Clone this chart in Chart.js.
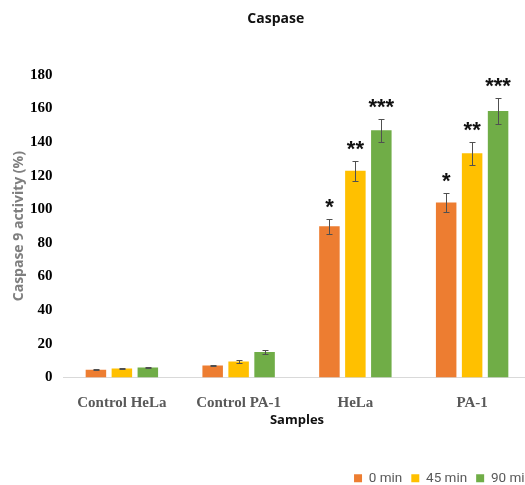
<!DOCTYPE html>
<html>
<head>
<meta charset="utf-8">
<script src="https://cdn.jsdelivr.net/npm/chart.js@4"></script>
<style>
  html, body { margin: 0; padding: 0; background: #fff; overflow: hidden; }
  #wrap { width: 541px; height: 485px; }
</style>
</head>
<body>
<div id="wrap"><canvas id="c" width="541" height="485"></canvas></div>
<script>
// Caspase 9 activity per sample and incubation time
const categories = ['Control HeLa', 'Control PA-1', 'HeLa', 'PA-1'];
const seriesNames = ['0 min', '45 min', '90 min'];
const values0  = [4.6, 7.1, 90, 104];
const values45 = [5.4, 9.5, 123, 133.3];
const values90 = [6.0, 15.1, 147, 158.5];
const err0  = [0.4, 0.4, 4.5, 5.5];
const err45 = [0.5, 1.0, 6.0, 7.0];
const err90 = [0.5, 1.0, 7.0, 8.0];
const sig0  = ['', '', '*', '*'];
const sig45 = ['', '', '**', '**'];
const sig90 = ['', '', '***', '***'];
const yTicks = [0, 20, 40, 60, 80, 100, 120, 140, 160, 180];

const colors = ['#ED7D31', '#FFC000', '#70AD47'];
const errors = [err0, err45, err90];
const marks = [sig0, sig45, sig90];

// Error bars with caps, drawn from the value scale
const errorBarPlugin = {
  id: 'errorBars',
  afterDatasetsDraw(chart) {
    const ctx = chart.ctx;
    const y = chart.scales.y;
    ctx.save();
    ctx.strokeStyle = '#505050';
    ctx.lineWidth = 1;
    chart.data.datasets.forEach((ds, di) => {
      const meta = chart.getDatasetMeta(di);
      meta.data.forEach((bar, i) => {
        const v = ds.data[i];
        const e = errors[di][i];
        const top = Math.round(y.getPixelForValue(v + e)) + 0.5;
        const bot = Math.round(y.getPixelForValue(v - e)) + 0.5;
        const x = Math.round(bar.x) + 0.5;
        ctx.beginPath();
        ctx.moveTo(x, top); ctx.lineTo(x, bot);
        ctx.moveTo(x - 3, top); ctx.lineTo(x + 3, top);
        ctx.moveTo(x - 3, bot); ctx.lineTo(x + 3, bot);
        ctx.stroke();
      });
    });
    ctx.restore();
  }
};

// Significance asterisks above each error bar
const significancePlugin = {
  id: 'significance',
  afterDatasetsDraw(chart) {
    const ctx = chart.ctx;
    const y = chart.scales.y;
    ctx.save();
    ctx.fillStyle = '#111';
    ctx.font = 'bold 22px "Liberation Sans"';
    ctx.textAlign = 'center';
    ctx.textBaseline = 'alphabetic';
    chart.data.datasets.forEach((ds, di) => {
      const meta = chart.getDatasetMeta(di);
      meta.data.forEach((bar, i) => {
        const s = marks[di][i];
        if (!s) return;
        const top = y.getPixelForValue(ds.data[i] + errors[di][i]);
        ctx.fillText(s, bar.x, top - 5);
      });
    });
    ctx.restore();
  }
};

new Chart(document.getElementById('c'), {
  type: 'bar',
  data: {
    labels: categories,
    datasets: [
      { label: seriesNames[0], data: values0, backgroundColor: colors[0] },
      { label: seriesNames[1], data: values45, backgroundColor: colors[1] },
      { label: seriesNames[2], data: values90, backgroundColor: colors[2] }
    ]
  },
  options: {
    responsive: false,
    animation: false,
    events: [],
    datasets: { bar: { categoryPercentage: 0.667, barPercentage: 0.79 } },
    layout: { padding: { left: 10.5, right: 0, top: 0, bottom: -10 } },
    plugins: {
      title: {
        display: true,
        text: 'Caspase',
        color: '#111',
        font: { family: '"Open Sans"', size: 14, weight: 'bold' },
        padding: { top: 11, bottom: 47 }
      },
      legend: {
        position: 'bottom',
        align: 'end',
        labels: {
          boxWidth: 8,
          boxHeight: 8,
          padding: 9,
          color: '#595959',
          font: { family: 'Roboto', size: 13.5 }
        }
      },
      tooltip: { enabled: false }
    },
    scales: {
      x: {
        grid: { display: false, drawTicks: false },
        border: { display: true, color: '#d9d9d9', width: 1 },
        ticks: {
          color: '#595959',
          padding: 17,
          font: { family: '"Liberation Serif"', size: 15, weight: 'bold' }
        },
        title: {
          display: true,
          text: 'Samples',
          color: '#111',
          font: { family: '"Open Sans"', size: 13, weight: 'bold' },
          padding: { top: 4, bottom: 34 }
        },
        afterFit(scale) { scale.height = 85; }
      },
      y: {
        min: 0,
        max: 180,
        afterBuildTicks(scale) { scale.ticks = yTicks.map(v => ({ value: v })); },
        grid: { display: false, drawTicks: false },
        border: { display: false },
        ticks: {
          color: '#000',
          padding: 11,
          font: { family: '"Liberation Serif"', size: 15, weight: 'bold' }
        },
        title: {
          display: true,
          text: 'Caspase 9 activity (%)',
          color: '#7f7f7f',
          font: { family: '"Open Sans"', size: 14, weight: 'bold' },
          padding: { top: 0, bottom: 0 }
        },
        afterFit(scale) { scale.width = 53; }
      },
      // empty right-hand gutter so the plot ends where the legend ends
      yRight: {
        position: 'right',
        display: true,
        grid: { display: false, drawTicks: false },
        border: { display: false },
        ticks: { display: false },
        afterFit(scale) { scale.width = 10.5; }
      }
    }
  },
  plugins: [errorBarPlugin, significancePlugin]
});
</script>
</body>
</html>
